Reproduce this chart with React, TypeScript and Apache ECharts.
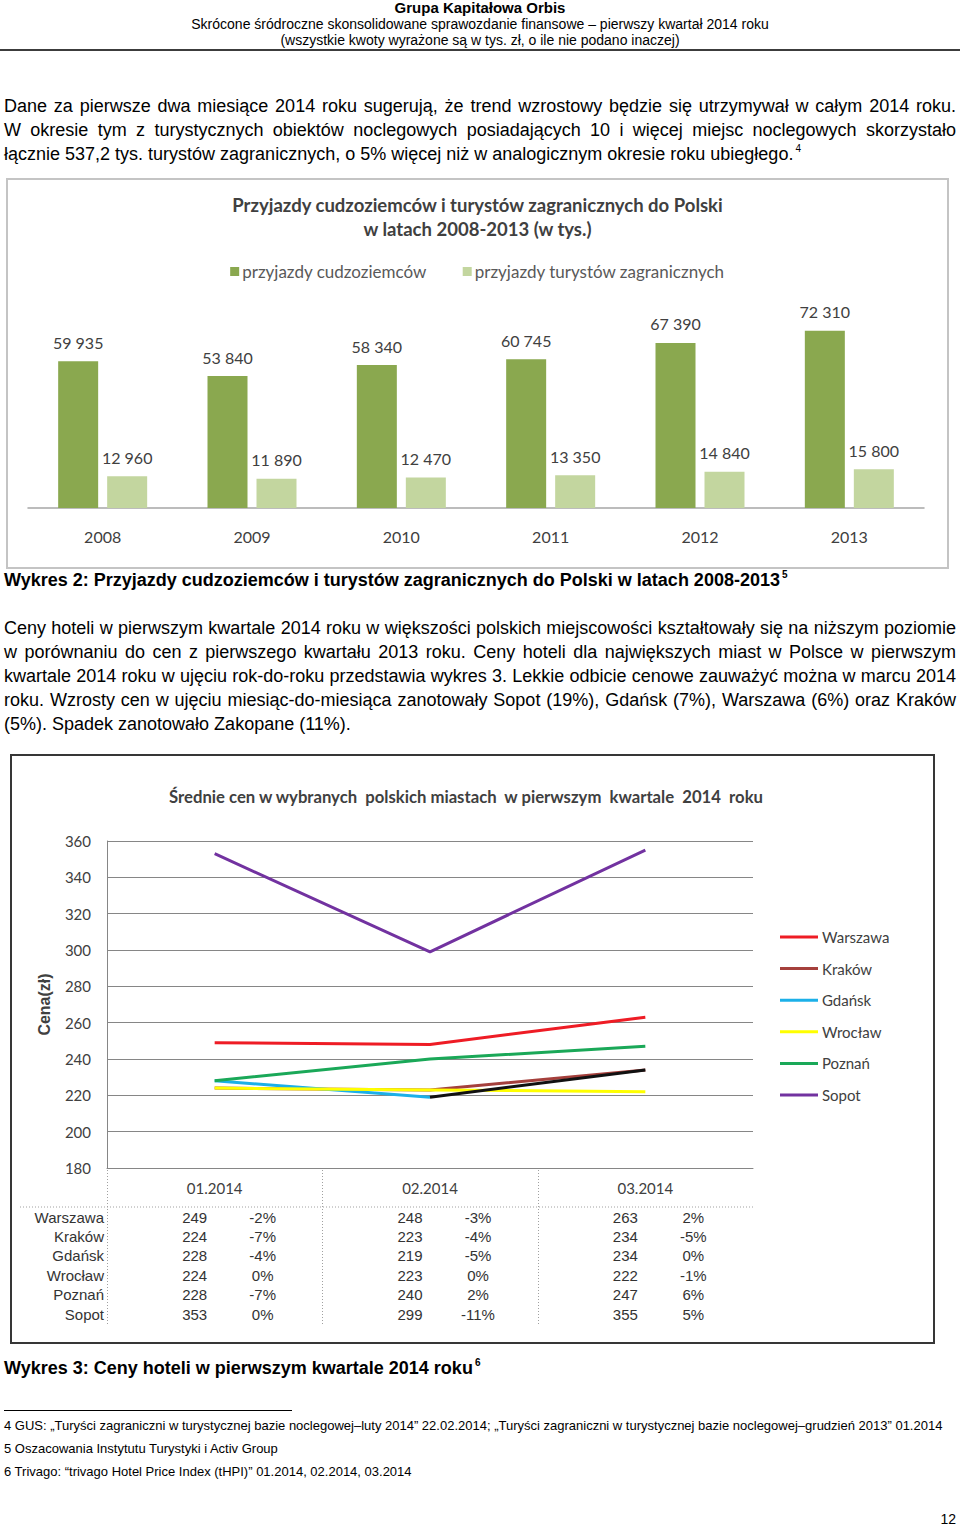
import React, { useEffect, useRef } from "react";
import * as echarts from "echarts";

// ---------- Data: chart 1 ----------
const years = ["2008", "2009", "2010", "2011", "2012", "2013"];
const arrivalsForeigners = [59935, 53840, 58340, 60745, 67390, 72310];
const arrivalsTourists = [12960, 11890, 12470, 13350, 14840, 15800];
const seriesNames1 = ["przyjazdy cudzoziemców", "przyjazdy turystów zagranicznych"];

// ---------- Data: chart 2 ----------
const months = ["01.2014", "02.2014", "03.2014"];
const cities = ["Warszawa", "Kraków", "Gdańsk", "Wrocław", "Poznań", "Sopot"];
const priceWarszawa = [249, 248, 263];
const priceKrakow = [224, 223, 234];
const priceGdansk = [228, 219, 234];
const priceWroclaw = [224, 223, 222];
const pricePoznan = [228, 240, 247];
const priceSopot = [353, 299, 355];
const yoyWarszawa = ["-2%", "-3%", "2%"];
const yoyKrakow = ["-7%", "-4%", "-5%"];
const yoyGdansk = ["-4%", "-5%", "0%"];
const yoyWroclaw = ["0%", "0%", "-1%"];
const yoyPoznan = ["-7%", "2%", "6%"];
const yoySopot = ["0%", "-11%", "5%"];
const priceAxisMin = 180;
const priceAxisMax = 360;
const priceAxisStep = 20;

const cityColors = ["#ee1c25", "#a5403c", "#1cb0e8", "#ffff00", "#1aa858", "#7232a0"];

const fmtThousands = (v: number) => {
  const s = String(Math.round(v));
  return s.length > 3 ? s.slice(0, s.length - 3) + " " + s.slice(s.length - 3) : s;
};

const BODY_FONT = '"Liberation Sans", Arial, sans-serif';
const CAL_FONT = "Lato, sans-serif";

function Chart1() {
  const ref = useRef<HTMLDivElement>(null);
  useEffect(() => {
    if (!ref.current) return;
    const chart = echarts.init(ref.current, undefined, { renderer: "svg" });
    chart.setOption({
      animation: false,
      textStyle: { fontFamily: CAL_FONT },
      title: {
        text: "Przyjazdy cudzoziemców i turystów zagranicznych do Polski\nw latach 2008-2013 (w tys.)",
        left: "center",
        top: 8,
        textStyle: { fontSize: 18.5, fontWeight: "bold", color: "#404040", lineHeight: 24, fontFamily: CAL_FONT },
      },
      legend: {
        top: 78,
        left: "center",
        icon: "rect",
        itemWidth: 9,
        itemHeight: 9,
        itemGap: 36,
        data: seriesNames1,
        textStyle: { fontSize: 17, color: "#595959", fontFamily: CAL_FONT, padding: [0, 0, 0, -2] },
      },
      grid: { left: 20, width: 896, top: 132, height: 196 },
      xAxis: {
        type: "category",
        data: years,
        axisLine: { lineStyle: { color: "#a6a6a6", width: 1.5 } },
        axisTick: { show: false },
        axisLabel: { margin: 20, fontSize: 16, color: "#404040", fontFamily: CAL_FONT },
      },
      yAxis: { type: "value", min: 0, max: 80000, show: false, splitLine: { show: false } },
      series: [
        {
          type: "bar",
          name: seriesNames1[0],
          data: arrivalsForeigners,
          barWidth: 40,
          barGap: "22.5%",
          itemStyle: { color: "#8aa84f" },
          label: {
            show: true,
            position: "top",
            distance: 11,
            fontSize: 16,
            color: "#404040",
            fontFamily: CAL_FONT,
            formatter: (p: any) => fmtThousands(p.value),
          },
        },
        {
          type: "bar",
          name: seriesNames1[1],
          data: arrivalsTourists,
          barWidth: 40,
          barGap: "22.5%",
          itemStyle: { color: "#c3d69f" },
          label: {
            show: true,
            position: "top",
            distance: 11,
            fontSize: 16,
            color: "#404040",
            fontFamily: CAL_FONT,
            formatter: (p: any) => fmtThousands(p.value),
          },
        },
      ],
    });
    return () => chart.dispose();
  }, []);
  return <div ref={ref} style={{ width: 939, height: 387 }} />;
}

function Chart2() {
  const ref = useRef<HTMLDivElement>(null);
  useEffect(() => {
    if (!ref.current) return;
    const chart = echarts.init(ref.current, undefined, { renderer: "svg" });
    const gridLeft = 95;
    const gridWidth = 646;
    const gridTop = 85;
    const gridHeight = 327;
    const catW = gridWidth / months.length;
    const prices = [priceWarszawa, priceKrakow, priceGdansk, priceWroclaw, pricePoznan, priceSopot];
    const yoys = [yoyWarszawa, yoyKrakow, yoyGdansk, yoyWroclaw, yoyPoznan, yoySopot];

    const lineSeries: any[] = cities.map((c, i) => ({
      type: "line",
      name: c,
      data: i === 2 ? prices[i].map((v, j) => (j <= 1 ? v : null)) : prices[i],
      showSymbol: false,
      symbol: "none",
      lineStyle: { width: 3, color: cityColors[i] },
      itemStyle: { color: cityColors[i] },
      z: 2,
    }));
    lineSeries.push({
      type: "line",
      name: "Gdańsk-2",
      data: priceGdansk.map((v, j) => (j >= 1 ? v : null)),
      showSymbol: false,
      symbol: "none",
      lineStyle: { width: 3, color: "#111111" },
      itemStyle: { color: "#111111" },
      z: 3,
    });

    const rowY0 = 461;
    const rowStep = 19.4;
    const tableFont = '15px "Liberation Sans", Arial, sans-serif';
    const graphics: any[] = [];
    graphics.push({
      type: "line",
      shape: { x1: 8, y1: 451, x2: gridLeft + gridWidth, y2: 451 },
      style: { stroke: "#a0a0a0", lineWidth: 1, lineDash: [1, 2] },
    });
    for (let k = 0; k < months.length; k++) {
      const x = Math.round(gridLeft + k * catW) + 0.5;
      graphics.push({
        type: "line",
        shape: { x1: x, y1: gridTop + gridHeight + 2, x2: x, y2: 569 },
        style: { stroke: "#a0a0a0", lineWidth: 1, lineDash: [1, 2] },
      });
    }
    cities.forEach((c, i) => {
      const y = rowY0 + i * rowStep;
      graphics.push({
        type: "text",
        x: 92,
        y,
        style: { text: c, font: tableFont, fill: "#333333", align: "right", textAlign: "right", verticalAlign: "middle", textVerticalAlign: "middle" },
      });
      months.forEach((m, k) => {
        const cx = gridLeft + (k + 0.5) * catW;
        graphics.push({
          type: "text",
          x: cx - 20,
          y,
          style: { text: String(prices[i][k]), font: tableFont, fill: "#333333", align: "center", textAlign: "center", verticalAlign: "middle", textVerticalAlign: "middle" },
        });
        graphics.push({
          type: "text",
          x: cx + 48,
          y,
          style: { text: yoys[i][k], font: tableFont, fill: "#333333", align: "center", textAlign: "center", verticalAlign: "middle", textVerticalAlign: "middle" },
        });
      });
    });

    chart.setOption({
      animation: false,
      textStyle: { fontFamily: CAL_FONT },
      title: {
        text: "Średnie cen w wybranych  polskich miastach  w pierwszym  kwartale  2014  roku",
        left: 449,
        textAlign: "center",
        top: 27,
        textStyle: { fontSize: 16.7, fontWeight: "bold", color: "#404040", fontFamily: CAL_FONT },
      },
      legend: {
        orient: "vertical",
        left: 763,
        top: 168,
        icon: "rect",
        itemWidth: 38,
        itemHeight: 3,
        itemGap: 15.6,
        data: cities,
        textStyle: { fontSize: 15, lineHeight: 16, color: "#404040", fontFamily: CAL_FONT, padding: [0, 0, 0, -1] },
      },
      grid: { left: gridLeft, width: gridWidth, top: gridTop, height: gridHeight },
      xAxis: {
        type: "category",
        data: months,
        boundaryGap: true,
        axisLine: { lineStyle: { color: "#868686", width: 1 } },
        axisTick: { show: false },
        axisLabel: { margin: 12, fontSize: 15, color: "#404040", fontFamily: CAL_FONT },
      },
      yAxis: {
        type: "value",
        min: priceAxisMin,
        max: priceAxisMax,
        interval: priceAxisStep,
        name: "Cena(zł)",
        nameLocation: "middle",
        nameGap: 55,
        nameTextStyle: { fontSize: 16, fontWeight: "bold", color: "#404040", fontFamily: BODY_FONT },
        axisLine: { show: true, lineStyle: { color: "#868686", width: 1 } },
        axisTick: { show: false },
        axisLabel: { margin: 16, fontSize: 15, color: "#404040", fontFamily: CAL_FONT },
        splitLine: { lineStyle: { color: "#868686", width: 1 } },
      },
      series: lineSeries,
      graphic: graphics,
    });
    return () => chart.dispose();
  }, []);
  return <div ref={ref} style={{ width: 921, height: 586 }} />;
}

const Sup = ({ n }: { n: string }) => (
  <span style={{ fontSize: 10, position: "relative", top: -8, lineHeight: 0, marginLeft: 2 }}>{n}</span>
);

const lineStyle = (top: number, justify: boolean, extra: any = {}): React.CSSProperties => ({
  position: "absolute",
  left: 4,
  top,
  width: 952,
  height: 24,
  lineHeight: "24px",
  fontSize: 18,
  fontFamily: BODY_FONT,
  color: "#000",
  textAlign: justify ? "justify" : "left",
  textAlignLast: justify ? "justify" : "left",
  ...extra,
});

export default function App() {
  const para1 = [
    "Dane za pierwsze dwa miesiące 2014 roku sugerują, że trend wzrostowy będzie się utrzymywał w całym 2014 roku.",
    "W okresie tym z turystycznych obiektów noclegowych posiadających 10 i więcej miejsc noclegowych skorzystało",
  ];
  const para1Last = "łącznie 537,2 tys. turystów zagranicznych, o 5% więcej niż w analogicznym okresie roku ubiegłego.";
  const para2 = [
    "Ceny hoteli w pierwszym kwartale 2014 roku w większości polskich miejscowości kształtowały się na niższym poziomie",
    "w porównaniu do cen z pierwszego kwartału 2013 roku. Ceny hoteli dla największych miast w Polsce w pierwszym",
    "kwartale 2014 roku w ujęciu rok-do-roku przedstawia wykres 3. Lekkie odbicie cenowe zauważyć można w marcu 2014",
    "roku. Wzrosty cen w ujęciu miesiąc-do-miesiąca zanotowały Sopot (19%), Gdańsk (7%), Warszawa (6%) oraz Kraków",
  ];
  const para2Last = "(5%). Spadek zanotowało Zakopane (11%).";
  const foot = { position: "absolute" as const, left: 4, fontSize: 13, lineHeight: "16px", fontFamily: BODY_FONT, color: "#000", whiteSpace: "nowrap" as const };
  return (
    <div style={{ position: "absolute", left: 0, top: 0, width: 960, height: 1528, background: "#fff", overflow: "hidden", fontFamily: BODY_FONT }}>
      {/* header */}
      <div style={{ position: "absolute", left: 0, width: 960, top: 0, textAlign: "center", fontSize: 15, lineHeight: "16px", fontWeight: "bold" }}>Grupa Kapitałowa Orbis</div>
      <div style={{ position: "absolute", left: 0, width: 960, top: 16, textAlign: "center", fontSize: 14, lineHeight: "16px" }}>Skrócone śródroczne skonsolidowane sprawozdanie finansowe – pierwszy kwartał 2014 roku</div>
      <div style={{ position: "absolute", left: 0, width: 960, top: 32, textAlign: "center", fontSize: 14, lineHeight: "16px" }}>(wszystkie kwoty wyrażone są w tys. zł, o ile nie podano inaczej)</div>
      <div style={{ position: "absolute", left: 0, width: 960, top: 49, height: 2, background: "#3c3c3c" }} />

      {/* paragraph 1 */}
      {para1.map((t, i) => (
        <div key={"p1" + i} style={lineStyle(94 + i * 24, true)}>{t}</div>
      ))}
      <div style={lineStyle(142, false)}>{para1Last}<Sup n="4" /></div>

      {/* chart 1 */}
      <div style={{ position: "absolute", left: 6, top: 178, width: 943, height: 391, border: "2px solid #c4c4c4", boxSizing: "border-box", background: "#fff" }}>
        <Chart1 />
      </div>
      <div style={lineStyle(568, false, { fontWeight: "bold", fontSize: 18 })}>
        Wykres 2: Przyjazdy cudzoziemców i turystów zagranicznych do Polski w latach 2008-2013<Sup n="5" />
      </div>

      {/* paragraph 2 */}
      {para2.map((t, i) => (
        <div key={"p2" + i} style={lineStyle(616 + i * 24, true)}>{t}</div>
      ))}
      <div style={lineStyle(712, false)}>{para2Last}</div>

      {/* chart 2 */}
      <div style={{ position: "absolute", left: 10, top: 754, width: 925, height: 590, border: "2px solid #363636", boxSizing: "border-box", background: "#fff" }}>
        <Chart2 />
      </div>
      <div style={lineStyle(1356, false, { fontWeight: "bold", fontSize: 18 })}>
        Wykres 3: Ceny hoteli w pierwszym kwartale 2014 roku<Sup n="6" />
      </div>

      {/* footnotes */}
      <div style={{ position: "absolute", left: 4, top: 1410, width: 288, height: 1, background: "#000" }} />
      <div style={{ ...foot, top: 1418 }}>4 GUS: „Turyści zagraniczni w turystycznej bazie noclegowej–luty 2014” 22.02.2014; „Turyści zagraniczni w turystycznej bazie noclegowej–grudzień  2013” 01.2014</div>
      <div style={{ ...foot, top: 1441 }}>5 Oszacowania Instytutu Turystyki i Activ Group</div>
      <div style={{ ...foot, top: 1464 }}>6 Trivago: “trivago Hotel Price Index (tHPI)” 01.2014, 02.2014, 03.2014</div>
      <div style={{ position: "absolute", right: 4, top: 1511, fontSize: 14, lineHeight: "16px" }}>12</div>
    </div>
  );
}
